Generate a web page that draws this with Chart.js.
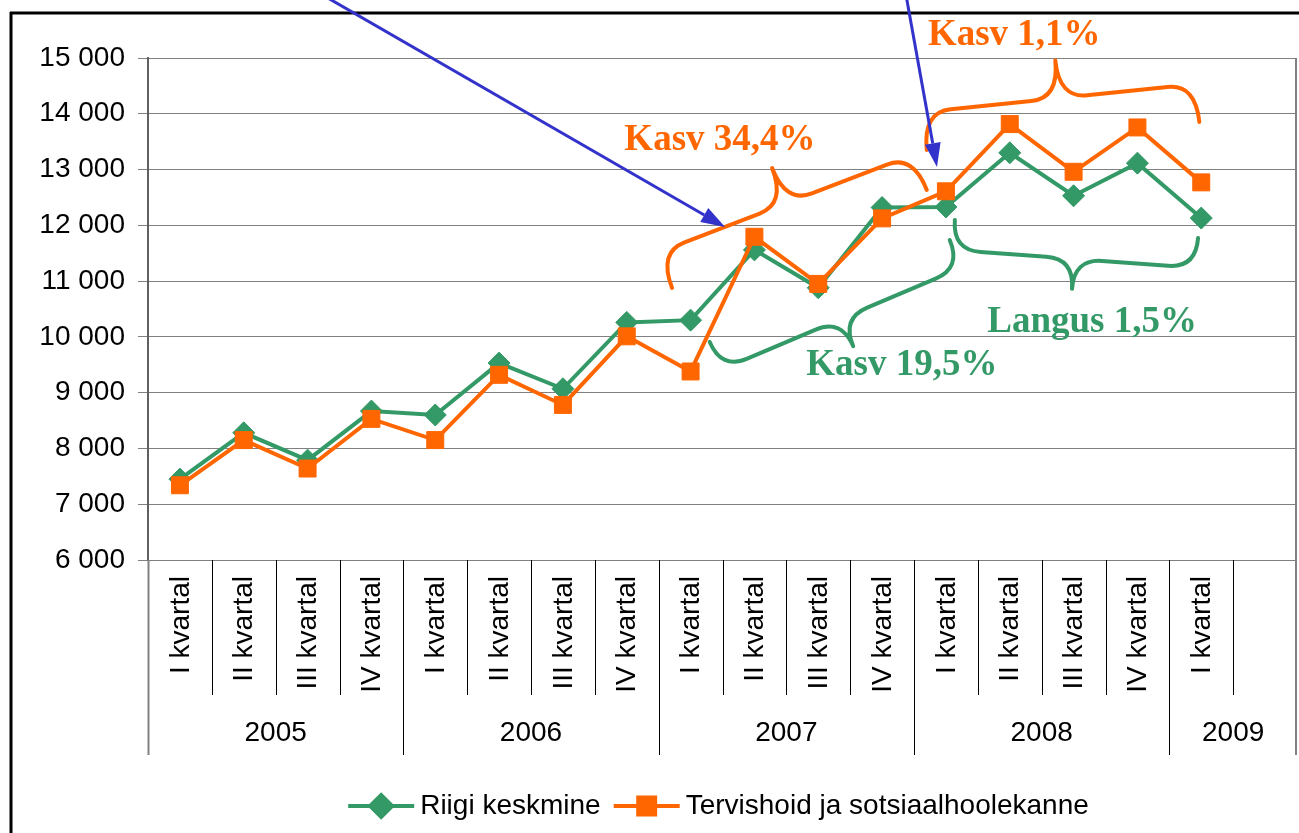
<!DOCTYPE html>
<html>
<head>
<meta charset="utf-8">
<script src="https://cdn.jsdelivr.net/npm/chart.js@4.4.1/dist/chart.umd.min.js"></script>
<style>
  html, body { margin: 0; padding: 0; background: #fff; }
  #wrap { position: relative; width: 1299px; height: 833px; }
</style>
</head>
<body>
<div id="wrap"><canvas id="chart"></canvas></div>
<script>
const quarters = [
  "I kvartal", "II kvartal", "III kvartal", "IV kvartal",
  "I kvartal", "II kvartal", "III kvartal", "IV kvartal",
  "I kvartal", "II kvartal", "III kvartal", "IV kvartal",
  "I kvartal", "II kvartal", "III kvartal", "IV kvartal",
  "I kvartal", "",
];
const years = ["2005", "2006", "2007", "2008", "2009"];
const yearSpans = [4, 4, 4, 4, 2];

const riigiKeskmine = [
  7450, 8280, 7790, 8670, 8600, 9530, 9070, 10260,
  10300, 11560, 10880, 12320, 12330, 13300, 12530, 13115, 12130, null,
];
const tervishoid = [
  7340, 8150, 7640, 8530, 8150, 9320, 8780, 10010,
  9380, 11795, 10950, 12125, 12610, 13815, 12960, 13755, 12770, null,
];

const yMin = 6000;
const yMax = 15000;
const yStep = 1000;

const seriesNames = ["Riigi keskmine", "Tervishoid ja sotsiaalhoolekanne"];

const palette = {
  green: "#339966",
  orange: "#FF6600",
  blue: "#3333CC",
  grid: "#808080",
  text: "#000000",
};

// annotations, placed in data space: [category index, value]
const braceFrom = [[7.71, 10877], [8.30, 9909], [11.70, 13351], [12.14, 12096]];
const braceTo = [[11.70, 12634], [12.06, 11737], [15.97, 13853], [15.95, 11773]];
const braceSide = [1, -1, 1, -1];
const braceColor = [palette.orange, palette.green, palette.orange, palette.green];

const noteTexts = ["Kasv 34,4%", "Kasv 1,1%", "Kasv 19,5%", "Langus 1,5%"];
const notePos = [[8.46, 13530], [13.07, 15412], [11.31, 9496], [14.29, 10267]];
const noteColor = [palette.orange, palette.orange, palette.green, palette.green];

const arrowFrom = [[2.19, 16160], [11.37, 16160]];
const arrowTo = [[8.54, 11970], [11.86, 13046]];

const sansFont = "'Liberation Sans', Arial, sans-serif";
const serifFont = "'Liberation Serif', 'Times New Roman', serif";

function fmtThousands(v) {
  return String(v).replace(/\B(?=(\d{3})+(?!\d))/g, " ");
}

function toPixel(chart, p) {
  return {
    x: chart.scales.x.getPixelForValue(p[0]),
    y: chart.scales.y.getPixelForValue(p[1]),
  };
}

function drawBrace(ctx, A, B, depth, side, r) {
  const dx = B.x - A.x;
  const dy = B.y - A.y;
  const L = Math.hypot(dx, dy);
  const ux = dx / L;
  const uy = dy / L;
  const nx = uy * side;
  const ny = -ux * side;
  const P = (s, t) => [A.x + ux * s + nx * t, A.y + uy * s + ny * t];
  const h = depth / 2;
  const m = L / 2;
  ctx.beginPath();
  ctx.moveTo(...P(0, 0));
  ctx.quadraticCurveTo(...P(0, h), ...P(r, h));
  ctx.lineTo(...P(m - r, h));
  ctx.quadraticCurveTo(...P(m, h), ...P(m, depth));
  ctx.moveTo(...P(m, depth));
  ctx.quadraticCurveTo(...P(m, h), ...P(m + r, h));
  ctx.lineTo(...P(L - r, h));
  ctx.quadraticCurveTo(...P(L, h), ...P(L, 0));
  ctx.stroke();
}

function drawArrow(ctx, A, B) {
  const ang = Math.atan2(B.y - A.y, B.x - A.x);
  const len = 24;
  const half = 8;
  const bx = B.x - Math.cos(ang) * len;
  const by = B.y - Math.sin(ang) * len;
  ctx.beginPath();
  ctx.moveTo(A.x, A.y);
  ctx.lineTo(bx, by);
  ctx.stroke();
  ctx.beginPath();
  ctx.moveTo(B.x, B.y);
  ctx.lineTo(bx + Math.sin(ang) * half, by - Math.cos(ang) * half);
  ctx.lineTo(bx - Math.sin(ang) * half, by + Math.cos(ang) * half);
  ctx.closePath();
  ctx.fill();
}

const categoryAxis = {
  id: "categoryAxis",
  afterDraw(chart) {
    const { ctx, chartArea } = chart;
    const xs = chart.scales.x;
    const w = (xs.right - xs.left) / quarters.length;
    const top = chartArea.bottom;
    const rightEdge = chartArea.right - 1;
    ctx.save();

    // outer frame
    ctx.strokeStyle = "#000";
    ctx.lineWidth = 3;
    ctx.beginPath();
    ctx.moveTo(10, 13);
    ctx.lineTo(1299, 13);
    ctx.moveTo(11, 12);
    ctx.lineTo(11, 833);
    ctx.stroke();

    // right border of the plot
    ctx.strokeStyle = palette.grid;
    ctx.lineWidth = 2;
    ctx.beginPath();
    ctx.moveTo(rightEdge, chartArea.top);
    ctx.lineTo(rightEdge, chartArea.bottom);
    ctx.stroke();

    // separators
    const groupEdges = [0];
    yearSpans.forEach((s, i) => groupEdges.push(groupEdges[i] + s));
    for (let k = 0; k <= quarters.length; k++) {
      const isEdge = k === 0 || k === quarters.length;
      let x = Math.round(xs.left + k * w) + 0.5;
      if (k === quarters.length) x = rightEdge;
      const isGroup = groupEdges.includes(k);
      ctx.strokeStyle = isEdge ? palette.grid : "#000";
      ctx.lineWidth = isEdge ? 2 : 1;
      ctx.beginPath();
      ctx.moveTo(x, top);
      ctx.lineTo(x, isGroup ? top + 195 : top + 135);
      ctx.stroke();
    }

    // quarter labels
    ctx.fillStyle = palette.text;
    ctx.font = `28px ${sansFont}`;
    ctx.textAlign = "right";
    ctx.textBaseline = "middle";
    quarters.forEach((q, i) => {
      if (!q) return;
      const cx = xs.getPixelForValue(i);
      ctx.save();
      ctx.translate(cx + 1, top + 16);
      ctx.rotate(-Math.PI / 2);
      ctx.fillText(q, 0, 0);
      ctx.restore();
    });

    // year labels
    ctx.textAlign = "center";
    years.forEach((y, i) => {
      const x0 = xs.left + groupEdges[i] * w;
      const x1 = xs.left + groupEdges[i + 1] * w;
      ctx.fillText(y, (x0 + x1) / 2, top + 173);
    });

    // legend
    const items = [
      { label: seriesNames[0], color: palette.green, style: "rectRot", r: 11 },
      { label: seriesNames[1], color: palette.orange, style: "rect", r: 12 },
    ];
    const lineLen = 66;
    const gapText = 6;
    const gapItem = 13;
    ctx.font = `28px ${sansFont}`;
    const widths = items.map((it) => lineLen + gapText + ctx.measureText(it.label).width);
    const total = widths[0] + widths[1] + gapItem;
    let lx = (chartArea.left + chartArea.right) / 2 - total / 2 - 4;
    const ly = 806;
    items.forEach((it, i) => {
      ctx.strokeStyle = it.color;
      ctx.lineWidth = 4;
      ctx.beginPath();
      ctx.moveTo(lx, ly);
      ctx.lineTo(lx + lineLen, ly);
      ctx.stroke();
      Chart.helpers.drawPoint(ctx, {
        pointStyle: it.style, radius: it.r, borderWidth: 1, rotation: 0,
      }, lx + lineLen / 2, ly);
      ctx.fillStyle = it.color;
      ctx.fill();
      ctx.fillStyle = palette.text;
      ctx.textAlign = "left";
      ctx.fillText(it.label, lx + lineLen + gapText, ly);
      lx += widths[i] + gapItem;
    });

    // braces
    ctx.lineWidth = 4;
    ctx.lineCap = "round";
    braceFrom.forEach((from, i) => {
      ctx.strokeStyle = braceColor[i];
      const A = toPixel(chart, from);
      const B = toPixel(chart, braceTo[i]);
      const depth = braceSide[i] > 0 ? 76 : 60;
      drawBrace(ctx, A, B, depth, braceSide[i], 28);
    });

    // arrows
    ctx.strokeStyle = palette.blue;
    ctx.fillStyle = palette.blue;
    ctx.lineWidth = 3;
    ctx.lineCap = "butt";
    arrowFrom.forEach((from, i) => {
      drawArrow(ctx, toPixel(chart, from), toPixel(chart, arrowTo[i]));
    });

    // notes
    ctx.font = `bold 37px ${serifFont}`;
    ctx.textAlign = "center";
    ctx.textBaseline = "middle";
    noteTexts.forEach((t, i) => {
      const p = toPixel(chart, notePos[i]);
      ctx.fillStyle = noteColor[i];
      ctx.fillText(t, p.x, p.y);
    });

    ctx.restore();
  },
};

new Chart(document.getElementById("chart"), {
  type: "line",
  data: {
    labels: quarters,
    datasets: [
      {
        label: seriesNames[0],
        data: riigiKeskmine,
        borderColor: palette.green,
        backgroundColor: palette.green,
        borderWidth: 4,
        pointStyle: "rectRot",
        pointRadius: 11,
        pointBorderWidth: 1,
        pointBackgroundColor: palette.green,
        pointBorderColor: palette.green,
        tension: 0,
        order: 1,
      },
      {
        label: seriesNames[1],
        data: tervishoid,
        borderColor: palette.orange,
        backgroundColor: palette.orange,
        borderWidth: 4,
        pointStyle: "rect",
        pointRadius: 12,
        pointBorderWidth: 1,
        pointBackgroundColor: palette.orange,
        pointBorderColor: palette.orange,
        tension: 0,
        order: 0,
      },
    ],
  },
  options: {
    responsive: true,
    maintainAspectRatio: false,
    animation: false,
    layout: {
      autoPadding: false,
      padding: { left: 0, right: 2, top: 58, bottom: 273 },
    },
    plugins: {
      legend: { display: false },
      tooltip: { enabled: false },
    },
    scales: {
      x: {
        type: "category",
        offset: true,
        display: false,
      },
      y: {
        min: yMin,
        max: yMax,
        afterFit: (scale) => { scale.width = 148; },
        ticks: {
          stepSize: yStep,
          color: palette.text,
          padding: 13,
          font: { family: sansFont, size: 28 },
          callback: (v) => fmtThousands(v),
        },
        grid: { color: palette.grid, lineWidth: 1, tickLength: 10 },
        border: { color: "#606060", width: 2 },
      },
    },
  },
  plugins: [categoryAxis],
});
</script>
</body>
</html>
